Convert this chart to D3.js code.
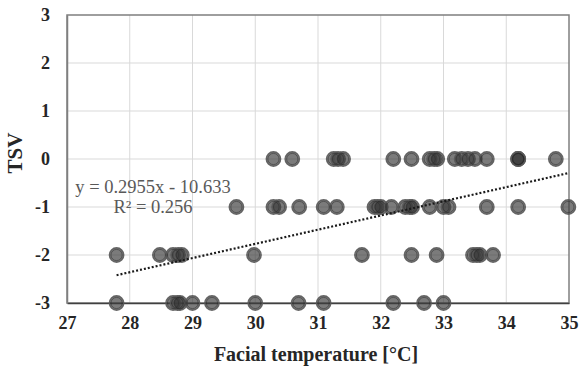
<!DOCTYPE html>
<html>
<head>
<meta charset="utf-8">
<script src="https://cdn.jsdelivr.net/npm/d3@7"></script>
<style>
  body { margin: 0; background: #fff; }
  svg { display: block; }
</style>
</head>
<body>
<div id="chart"></div>
<script>
// facial temperature readings per thermal sensation vote
const tempsAt0 = [30.29, 30.59, 31.25, 31.32, 31.4, 32.2, 32.49, 32.78, 32.85, 32.9, 33.18, 33.29, 33.39, 33.5, 33.69, 34.19, 34.19, 34.19, 34.79];
const tempsAtMinus1 = [29.7, 30.29, 30.38, 30.7, 31.09, 31.3, 31.9, 31.95, 32.0, 32.17, 32.39, 32.46, 32.5, 32.78, 33.0, 33.08, 33.69, 34.19, 34.99];
const tempsAtMinus2 = [27.79, 28.48, 28.69, 28.77, 28.83, 29.98, 31.7, 32.49, 32.89, 33.47, 33.53, 33.58, 33.79];
const tempsAtMinus3 = [27.79, 28.69, 28.76, 28.8, 29.0, 29.31, 30.0, 30.69, 31.09, 32.2, 32.69, 33.0];

const xTicks = [27, 28, 29, 30, 31, 32, 33, 34, 35];
const yTicks = [-3, -2, -1, 0, 1, 2, 3];

// linear fit shown on the chart
const slope = 0.2955;
const intercept = -10.633;
const eqLabel = 'y = 0.2955x - 10.633';
const r2Label = 'R² = 0.256';

const data = [
  ...tempsAt0.map(t => [t, 0]),
  ...tempsAtMinus1.map(t => [t, -1]),
  ...tempsAtMinus2.map(t => [t, -2]),
  ...tempsAtMinus3.map(t => [t, -3]),
];

const width = 579;
const height = 369;
const plotLeft = 67, plotRight = 569, plotTop = 15, plotBottom = 303;
const serif = '"Liberation Serif", "Times New Roman", serif';

const svg = d3.select('#chart')
  .append('svg')
  .attr('width', width)
  .attr('height', height);

const x = d3.scaleLinear().domain([27, 35]).range([plotLeft, plotRight]);
const y = d3.scaleLinear().domain([-3, 3]).range([plotBottom, plotTop]);

// grid
svg.append('g')
  .selectAll('line')
  .data(xTicks.slice(1, -1))
  .join('line')
  .attr('x1', d => x(d)).attr('x2', d => x(d))
  .attr('y1', plotTop).attr('y2', plotBottom)
  .attr('stroke', '#d9d9d9').attr('stroke-width', 1);

svg.append('g')
  .selectAll('line')
  .data(yTicks.slice(1, -1))
  .join('line')
  .attr('x1', plotLeft).attr('x2', plotRight)
  .attr('y1', d => y(d)).attr('y2', d => y(d))
  .attr('stroke', '#d9d9d9').attr('stroke-width', 1);

// frame
svg.append('rect')
  .attr('x', plotLeft).attr('y', plotTop)
  .attr('width', plotRight - plotLeft).attr('height', plotBottom - plotTop)
  .attr('fill', 'none')
  .attr('stroke', '#7f7f7f')
  .attr('stroke-width', 1.5);

// axes (plain hyphen for negatives, like the original)
const xAxis = svg.append('g')
  .attr('transform', `translate(0,${plotBottom})`)
  .call(d3.axisBottom(x).tickValues(xTicks).tickSize(0).tickPadding(13).tickFormat(d => String(d)));
xAxis.select('.domain').attr('stroke', '#404040').attr('stroke-width', 1.5);

const yAxis = svg.append('g')
  .attr('transform', `translate(${plotLeft},0)`)
  .call(d3.axisLeft(y).tickValues(yTicks).tickSize(0).tickPadding(17).tickFormat(d => String(d)));
yAxis.select('.domain').attr('stroke', '#7f7f7f').attr('stroke-width', 1.5);

svg.selectAll('.tick text')
  .style('font-family', serif)
  .style('font-size', '18px')
  .style('font-weight', 'bold')
  .attr('fill', '#262626');

// points
const pts = svg.append('g');
pts.selectAll('circle.outer')
  .data(data)
  .join('circle')
  .attr('class', 'outer')
  .attr('cx', d => x(d[0]))
  .attr('cy', d => y(d[1]))
  .attr('r', 7.2)
  .attr('fill', 'rgba(60,60,60,0.68)')
  .attr('stroke', 'rgba(90,90,90,0.9)')
  .attr('stroke-width', 1.4);
pts.selectAll('circle.inner')
  .data(data)
  .join('circle')
  .attr('class', 'inner')
  .attr('cx', d => x(d[0]))
  .attr('cy', d => y(d[1]))
  .attr('r', 5.6)
  .attr('fill', 'none')
  .attr('stroke', 'rgba(40,40,40,0.6)')
  .attr('stroke-width', 0.8);

// trend line
const [xMin, xMax] = d3.extent(data, d => d[0]);
svg.append('line')
  .attr('x1', x(xMin)).attr('y1', y(slope * xMin + intercept))
  .attr('x2', x(xMax)).attr('y2', y(slope * xMax + intercept))
  .attr('stroke', '#1a1a1a')
  .attr('stroke-width', 2.2)
  .attr('stroke-dasharray', '2,2');

// equation
svg.append('g')
  .style('font-family', serif)
  .style('font-size', '18.5px')
  .attr('fill', '#595959')
  .attr('text-anchor', 'middle')
  .selectAll('text')
  .data([[eqLabel, 193], [r2Label, 213]])
  .join('text')
  .attr('x', 153)
  .attr('y', d => d[1])
  .text(d => d[0]);

// axis titles
svg.append('text')
  .attr('x', 316).attr('y', 361)
  .attr('text-anchor', 'middle')
  .style('font-family', serif)
  .style('font-size', '20px')
  .style('font-weight', 'bold')
  .attr('fill', '#262626')
  .text('Facial temperature [°C]');

svg.append('text')
  .attr('transform', 'translate(22,153) rotate(-90)')
  .attr('text-anchor', 'middle')
  .style('font-family', serif)
  .style('font-size', '21px')
  .style('font-weight', 'bold')
  .attr('fill', '#262626')
  .text('TSV');
</script>
</body>
</html>
